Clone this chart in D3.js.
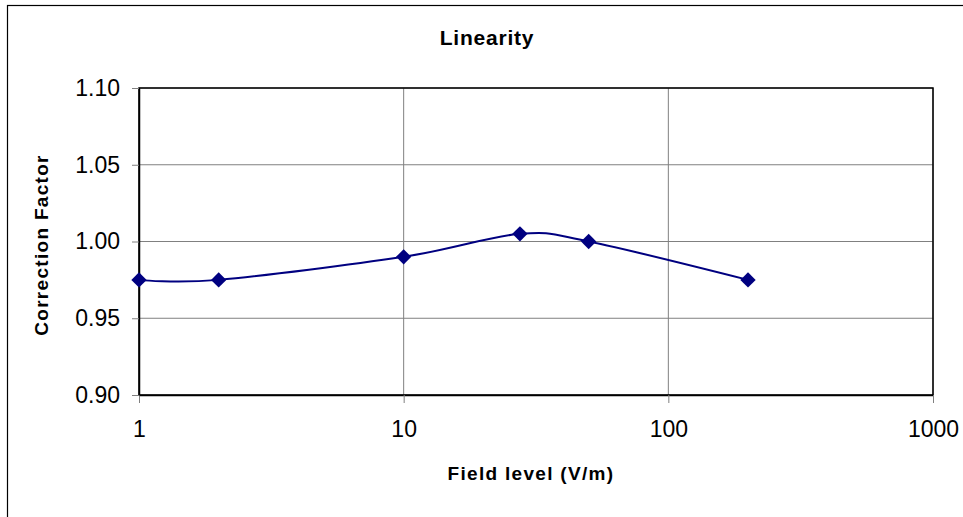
<!DOCTYPE html>
<html>
<head>
<meta charset="utf-8">
<script src="https://cdn.jsdelivr.net/npm/d3@7"></script>
<style>
  body { margin: 0; background: #fff; }
  svg { display: block; font-family: "Liberation Sans", Arial, sans-serif; }
</style>
</head>
<body>
<div id="chart"></div>
<script>
// data
const fieldLevels = [1, 2, 10, 27.5, 50, 200];
const correctionFactors = [0.975, 0.975, 0.99, 1.005, 1.0, 0.975];
const xTicks = [1, 10, 100, 1000];
const yTicks = [0.9, 0.95, 1.0, 1.05, 1.1];

const W = 963, H = 517;
const margin = { top: 88, right: 30, bottom: 122, left: 139 };
const width = 933 - margin.left;
const height = 395 - margin.top;

const svg = d3.select("#chart").append("svg")
  .attr("width", W).attr("height", H);

// outer chart frame (right / bottom edges run off the picture)
svg.append("rect")
  .attr("x", 7.5).attr("y", 5.5)
  .attr("width", 1000).attr("height", 600)
  .attr("fill", "none").attr("stroke", "#000").attr("stroke-width", 1.2);

const g = svg.append("g")
  .attr("transform", "translate(" + margin.left + "," + margin.top + ")");

const x = d3.scaleLog().domain([1, 1000]).range([0, width]);
const y = d3.scaleLinear().domain([0.9, 1.1]).range([height, 0]);

// gridlines
g.append("g")
  .selectAll("line.h")
  .data(yTicks)
  .join("line")
  .attr("x1", 0).attr("x2", width)
  .attr("y1", d => y(d)).attr("y2", d => y(d))
  .attr("stroke", "#808080").attr("stroke-width", 1);
g.append("g")
  .selectAll("line.v")
  .data(xTicks)
  .join("line")
  .attr("x1", d => x(d)).attr("x2", d => x(d))
  .attr("y1", 0).attr("y2", height)
  .attr("stroke", "#808080").attr("stroke-width", 1);

// plot area border
g.append("rect")
  .attr("width", width).attr("height", height)
  .attr("fill", "none").attr("stroke", "#000").attr("stroke-width", 1.5);

// axes
const xAxis = g.append("g")
  .attr("transform", "translate(0," + height + ")")
  .call(d3.axisBottom(x).tickValues(xTicks).tickFormat(d3.format("d"))
    .tickSizeInner(8).tickSizeOuter(0).tickPadding(18));
const yAxis = g.append("g")
  .call(d3.axisLeft(y).tickValues(yTicks).tickFormat(d3.format(".2f"))
    .tickSizeInner(7).tickSizeOuter(0).tickPadding(12));

[xAxis, yAxis].forEach(a => {
  a.select(".domain").attr("stroke", "#000").attr("stroke-width", 1.5);
  a.selectAll(".tick line").attr("stroke", "#808080");
  a.selectAll(".tick text")
    .attr("fill", "#000")
    .style("font-size", "23px")
    .style("font-family", "'Liberation Sans', Arial, sans-serif");
});

// smoothed series line, Excel style
const pts = fieldLevels.map((f, i) => [f, correctionFactors[i]]);
const line = d3.line()
  .x(d => x(d[0]))
  .y(d => y(d[1]))
  .curve(d3.curveCardinal.tension(0));

g.append("path")
  .datum(pts)
  .attr("d", line)
  .attr("fill", "none")
  .attr("stroke", "#000080")
  .attr("stroke-width", 2);

// diamond markers
g.selectAll("path.marker")
  .data(pts)
  .join("path")
  .attr("class", "marker")
  .attr("d", d3.symbol().type(d3.symbolDiamond2).size(150))
  .attr("transform", d => "translate(" + x(d[0]) + "," + y(d[1]) + ")")
  .attr("fill", "#000080");

// titles
svg.append("text")
  .attr("x", 487).attr("y", 45)
  .attr("text-anchor", "middle")
  .style("font-weight", "bold").style("font-size", "21px")
  .style("letter-spacing", "0.8px")
  .text("Linearity");

svg.append("text")
  .attr("x", 531).attr("y", 480)
  .attr("text-anchor", "middle")
  .style("font-weight", "bold").style("font-size", "19px")
  .style("letter-spacing", "1.3px")
  .text("Field level (V/m)");

svg.append("text")
  .attr("transform", "translate(48,245)rotate(-90)")
  .attr("text-anchor", "middle")
  .style("font-weight", "bold").style("font-size", "19px")
  .style("letter-spacing", "1.3px")
  .text("Correction Factor");
</script>
</body>
</html>
